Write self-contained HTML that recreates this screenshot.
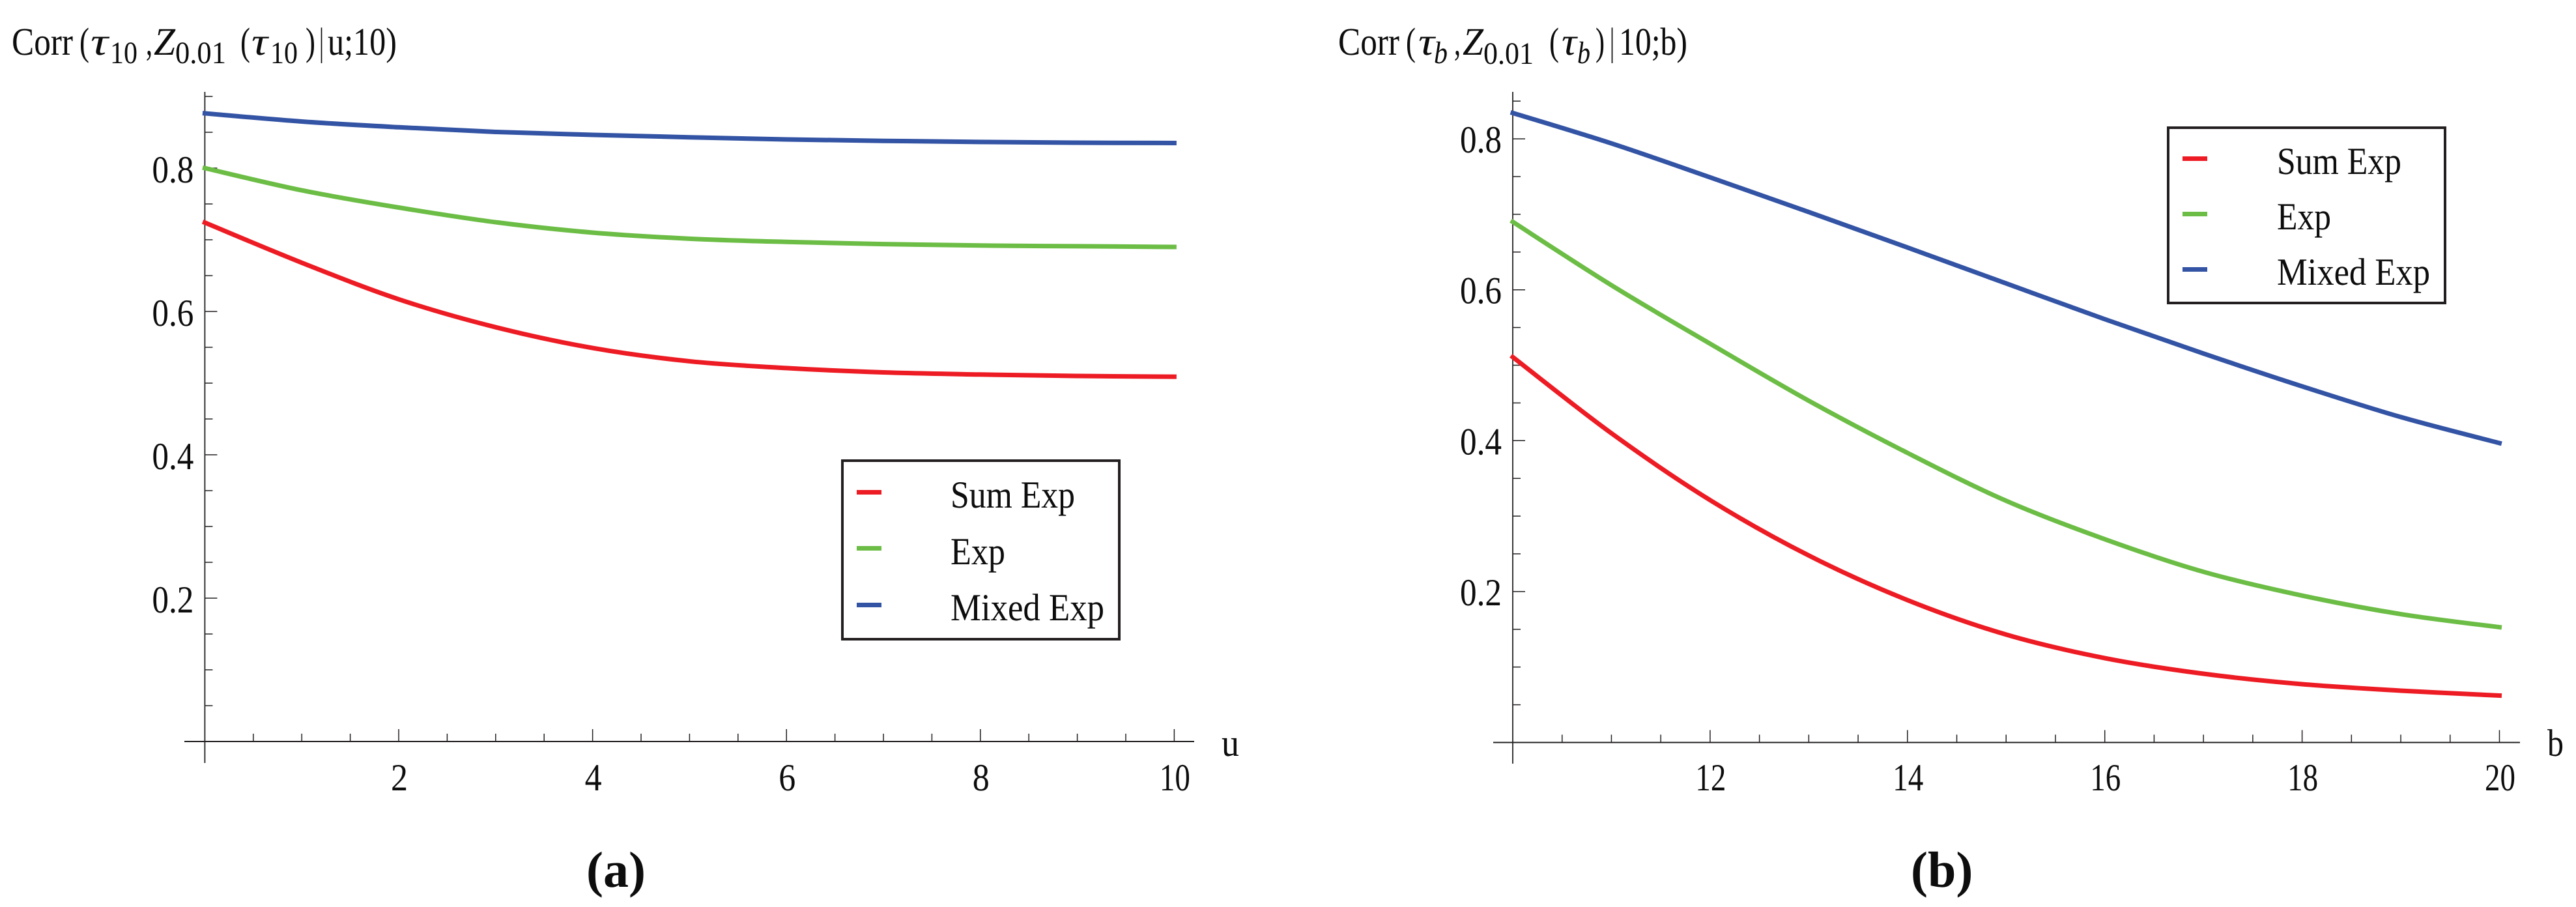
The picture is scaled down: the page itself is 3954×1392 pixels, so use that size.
<!DOCTYPE html>
<html lang="en">
<head>
<meta charset="utf-8">
<title>Correlation curves</title>
<style>
html,body{margin:0;padding:0;background:#fff;width:3954px;height:1392px;overflow:hidden}
svg{display:block}
text{font-family:"Liberation Serif","DejaVu Serif",serif;fill:#0d0d0d;font-size:59px;text-rendering:geometricPrecision}
.ttl{font-size:60px}
.sub{font-size:48px}
.it{font-style:italic}
</style>
</head>
<body>
<svg id="figure" xmlns="http://www.w3.org/2000/svg" width="3954" height="1392" viewBox="0 0 3954 1392">
  <rect width="3954" height="1392" fill="#fff"/>

  <g id="panel-a">
    <g>
      <text class="ttl" x="18" y="84" textLength="94" lengthAdjust="spacingAndGlyphs">Corr</text>
      <text class="ttl" x="122" y="84" textLength="15" lengthAdjust="spacingAndGlyphs">(</text>
      <text class="ttl it" x="139" y="84" textLength="27" lengthAdjust="spacingAndGlyphs">τ</text>
      <text class="sub" x="169" y="97" textLength="42" lengthAdjust="spacingAndGlyphs">10</text>
      <text class="ttl" x="224" y="84" textLength="10" lengthAdjust="spacingAndGlyphs">,</text>
      <text class="ttl it" x="236" y="84" textLength="33" lengthAdjust="spacingAndGlyphs">Z</text>
      <text class="sub" x="269" y="97" textLength="78" lengthAdjust="spacingAndGlyphs">0.01</text>
      <text class="ttl" x="369" y="84" textLength="15" lengthAdjust="spacingAndGlyphs">(</text>
      <text class="ttl it" x="386" y="84" textLength="25" lengthAdjust="spacingAndGlyphs">τ</text>
      <text class="sub" x="415" y="97" textLength="42" lengthAdjust="spacingAndGlyphs">10</text>
      <text class="ttl" x="469" y="84" textLength="15" lengthAdjust="spacingAndGlyphs">)</text>
      <text class="ttl" x="490" y="84" textLength="7" lengthAdjust="spacingAndGlyphs">|</text>
      <text class="ttl" x="503" y="84" textLength="106" lengthAdjust="spacingAndGlyphs">u;10)</text>
    </g>
    <g id="axes-a"></g>
    <g id="curves-a"></g>
    <text x="1875" y="1160" textLength="27" lengthAdjust="spacingAndGlyphs">u</text>
    <g>
      <rect x="1293" y="707" width="425" height="274" fill="#fff" stroke="#231f20" stroke-width="4"/>
      <rect x="1315" y="752" width="38" height="7" fill="#ed1c24"/>
      <text x="1459" y="779" textLength="191" lengthAdjust="spacingAndGlyphs">Sum Exp</text>
      <rect x="1315" y="838" width="38" height="7" fill="#6cbd45"/>
      <text x="1459" y="866" textLength="84" lengthAdjust="spacingAndGlyphs">Exp</text>
      <rect x="1315" y="925" width="38" height="7" fill="#3353a4"/>
      <text x="1459" y="952" textLength="236" lengthAdjust="spacingAndGlyphs">Mixed Exp</text>
    </g>
    <text x="900" y="1361" style="font-size:78px;font-weight:bold">(a)</text>
  </g>

  <g id="panel-b">
    <g>
      <text class="ttl" x="2054" y="84" textLength="94" lengthAdjust="spacingAndGlyphs">Corr</text>
      <text class="ttl" x="2158" y="84" textLength="15" lengthAdjust="spacingAndGlyphs">(</text>
      <text class="ttl it" x="2177" y="84" textLength="25" lengthAdjust="spacingAndGlyphs">τ</text>
      <text class="sub it" x="2201" y="97" textLength="21" lengthAdjust="spacingAndGlyphs">b</text>
      <text class="ttl" x="2232" y="84" textLength="10" lengthAdjust="spacingAndGlyphs">,</text>
      <text class="ttl it" x="2245" y="84" textLength="32" lengthAdjust="spacingAndGlyphs">Z</text>
      <text class="sub" x="2277" y="98" textLength="77" lengthAdjust="spacingAndGlyphs">0.01</text>
      <text class="ttl" x="2378" y="84" textLength="15" lengthAdjust="spacingAndGlyphs">(</text>
      <text class="ttl it" x="2397" y="84" textLength="23" lengthAdjust="spacingAndGlyphs">τ</text>
      <text class="sub it" x="2421" y="97" textLength="20" lengthAdjust="spacingAndGlyphs">b</text>
      <text class="ttl" x="2449" y="84" textLength="14" lengthAdjust="spacingAndGlyphs">)</text>
      <text class="ttl" x="2471" y="84" textLength="7" lengthAdjust="spacingAndGlyphs">|</text>
      <text class="ttl" x="2485" y="84" textLength="105" lengthAdjust="spacingAndGlyphs">10;b)</text>
    </g>
    <g id="axes-b"></g>
    <g id="curves-b"></g>
    <text x="3910" y="1160" textLength="25" lengthAdjust="spacingAndGlyphs">b</text>
    <g>
      <rect x="3328" y="196" width="425" height="269" fill="#fff" stroke="#231f20" stroke-width="4"/>
      <rect x="3350" y="240" width="38" height="7" fill="#ed1c24"/>
      <text x="3495" y="267" textLength="191" lengthAdjust="spacingAndGlyphs">Sum Exp</text>
      <rect x="3350" y="325" width="38" height="7" fill="#6cbd45"/>
      <text x="3495" y="352" textLength="83" lengthAdjust="spacingAndGlyphs">Exp</text>
      <rect x="3350" y="410" width="38" height="7" fill="#3353a4"/>
      <text x="3495" y="437" textLength="235" lengthAdjust="spacingAndGlyphs">Mixed Exp</text>
    </g>
    <text x="2933" y="1361" style="font-size:78px;font-weight:bold">(b)</text>
  </g>
</svg>

<script>
// Panel (a) data
const uValues = [0, 1, 2, 3, 4, 5, 6, 7, 8, 9, 10];
const sumExpA = [0.7240, 0.6680, 0.6170, 0.5780, 0.5490, 0.5305, 0.5210, 0.5150, 0.5120, 0.5100, 0.5090];
const expA = [0.8000, 0.7690, 0.7450, 0.7245, 0.7100, 0.7015, 0.6970, 0.6940, 0.6920, 0.6910, 0.6900];
const mixedExpA = [0.8764, 0.8650, 0.8570, 0.8505, 0.8464, 0.8430, 0.8400, 0.8380, 0.8365, 0.8355, 0.8350];
const xTickLabelsA = ["2", "4", "6", "8", "10"];
const yTickLabelsA = ["0.2", "0.4", "0.6", "0.8"];

// Panel (b) data
const bValues = [10, 11, 12, 13, 14, 15, 16, 17, 18, 19, 20];
const sumExpB = [0.5108, 0.4098, 0.3212, 0.2478, 0.1887, 0.1430, 0.1118, 0.0911, 0.0773, 0.0687, 0.0622];
const expB = [0.6900, 0.6060, 0.5285, 0.4529, 0.3838, 0.3203, 0.2694, 0.2262, 0.1947, 0.1701, 0.1528];
const mixedExpB = [0.8343, 0.7940, 0.7490, 0.7030, 0.6560, 0.6084, 0.5610, 0.5155, 0.4720, 0.4313, 0.3968];
const xTickLabelsB = ["12", "14", "16", "18", "20"];
const yTickLabelsB = ["0.2", "0.4", "0.6", "0.8"];

const NS = "http://www.w3.org/2000/svg";
const RED = "#ed1c24", GREEN = "#6cbd45", BLUE = "#3353a4";
const INK = "#231f20";

function make(tag, attrs, parent) {
  const el = document.createElementNS(NS, tag);
  for (const k in attrs) el.setAttribute(k, attrs[k]);
  parent.appendChild(el);
  return el;
}

function smoothPath(points) {
  let d = "M" + points[0][0].toFixed(2) + " " + points[0][1].toFixed(2);
  for (let i = 0; i < points.length - 1; i++) {
    const p0 = points[Math.max(i - 1, 0)];
    const p1 = points[i];
    const p2 = points[i + 1];
    const p3 = points[Math.min(i + 2, points.length - 1)];
    const c1x = p1[0] + (p2[0] - p0[0]) / 6, c1y = p1[1] + (p2[1] - p0[1]) / 6;
    const c2x = p2[0] - (p3[0] - p1[0]) / 6, c2y = p2[1] - (p3[1] - p1[1]) / 6;
    d += "C" + c1x.toFixed(2) + " " + c1y.toFixed(2) + " " + c2x.toFixed(2) + " " + c2y.toFixed(2) + " " + p2[0].toFixed(2) + " " + p2[1].toFixed(2);
  }
  return d;
}

function labelWidth(s) {
  return s.length === 1 ? 26 : (s.length === 2 ? 47 : 64);
}

function drawPanel(cfg) {
  const axes = document.getElementById(cfg.axesId);
  const curves = document.getElementById(cfg.curvesId);

  const xAxis = make("line", {x1: cfg.xAxisLeft, x2: cfg.xAxisRight, y1: cfg.y(0), y2: cfg.y(0), stroke: INK, "stroke-width": 2}, axes);
  
  

  const yAxis = make("line", {x1: cfg.x(cfg.xMin), x2: cfg.x(cfg.xMin), y1: 141, y2: cfg.yAxisBottom, stroke: INK, "stroke-width": 1.8}, axes);
  
  

  // x ticks every 0.5 units, longer at labelled values
  for (let i = 1; i <= (cfg.xMax - cfg.xMin) * 2; i++) {
    const v = cfg.xMin + i * 0.5;
    const isMajor = cfg.xLabels.includes(String(v));
    const t = make("line", {x1: cfg.x(v), x2: cfg.x(v), y1: cfg.y(0), y2: cfg.y(0) - (isMajor ? 19 : 12), stroke: INK, "stroke-width": 1.5}, axes);
    
    
  }
  // y ticks every 0.05, longer at labelled values
  for (let i = 1; i <= cfg.yTickCount; i++) {
    const v = i * 0.05;
    const isMajor = cfg.yLabels.includes(v.toFixed(1)) && i % 4 === 0;
    const t = make("line", {x1: cfg.x(cfg.xMin), x2: cfg.x(cfg.xMin) + (isMajor ? 19 : 12), y1: cfg.y(v), y2: cfg.y(v), stroke: INK, "stroke-width": 1.5}, axes);
    
    
  }

  cfg.xLabels.forEach(function (s) {
    const l = make("text", {x: cfg.x(Number(s)) + 1, y: 1213, "text-anchor": "middle", textLength: labelWidth(s), lengthAdjust: "spacingAndGlyphs"}, axes);
    
    
    l.textContent = s;
  });
  cfg.yLabels.forEach(function (s) {
    const l = make("text", {x: cfg.x(cfg.xMin) - 17, y: cfg.y(Number(s)) + cfg.yLabelDrop, "text-anchor": "end", textLength: labelWidth(s), lengthAdjust: "spacingAndGlyphs"}, axes);
    
    
    l.textContent = s;
  });

  cfg.series.forEach(function (s) {
    const pts = cfg.xs.map(function (xv, i) { return [cfg.x(xv), cfg.y(s.values[i])]; });
    const p = make("path", {d: smoothPath(pts), fill: "none", stroke: s.color, "stroke-width": 7, "stroke-linecap": "square", "stroke-linejoin": "round"}, curves);
    
    
  });
}

drawPanel({
  axesId: "axes-a", curvesId: "curves-a",
  xMin: 0, xMax: 10, xs: uValues,
  x: function (u) { return 314.4 + 148.8 * u; },
  y: function (v) { return 1138 - 1100 * v; },
  xAxisLeft: 283, xAxisRight: 1833, yAxisBottom: 1171, yTickCount: 18, yLabelDrop: 22,
  xLabels: xTickLabelsA, yLabels: yTickLabelsA,
  series: [
    {name: "curve-sum-exp", values: sumExpA, color: RED},
    {name: "curve-exp", values: expA, color: GREEN},
    {name: "curve-mixed-exp", values: mixedExpA, color: BLUE}
  ]
});

drawPanel({
  axesId: "axes-b", curvesId: "curves-b",
  xMin: 10, xMax: 20, xs: bValues,
  x: function (b) { return 2322 + 151.45 * (b - 10); },
  y: function (v) { return 1139.5 - 1158 * v; },
  xAxisLeft: 2292, xAxisRight: 3868, yAxisBottom: 1172, yTickCount: 17, yLabelDrop: 21,
  xLabels: xTickLabelsB, yLabels: yTickLabelsB,
  series: [
    {name: "curve-sum-exp", values: sumExpB, color: RED},
    {name: "curve-exp", values: expB, color: GREEN},
    {name: "curve-mixed-exp", values: mixedExpB, color: BLUE}
  ]
});
</script>
</body>
</html>
